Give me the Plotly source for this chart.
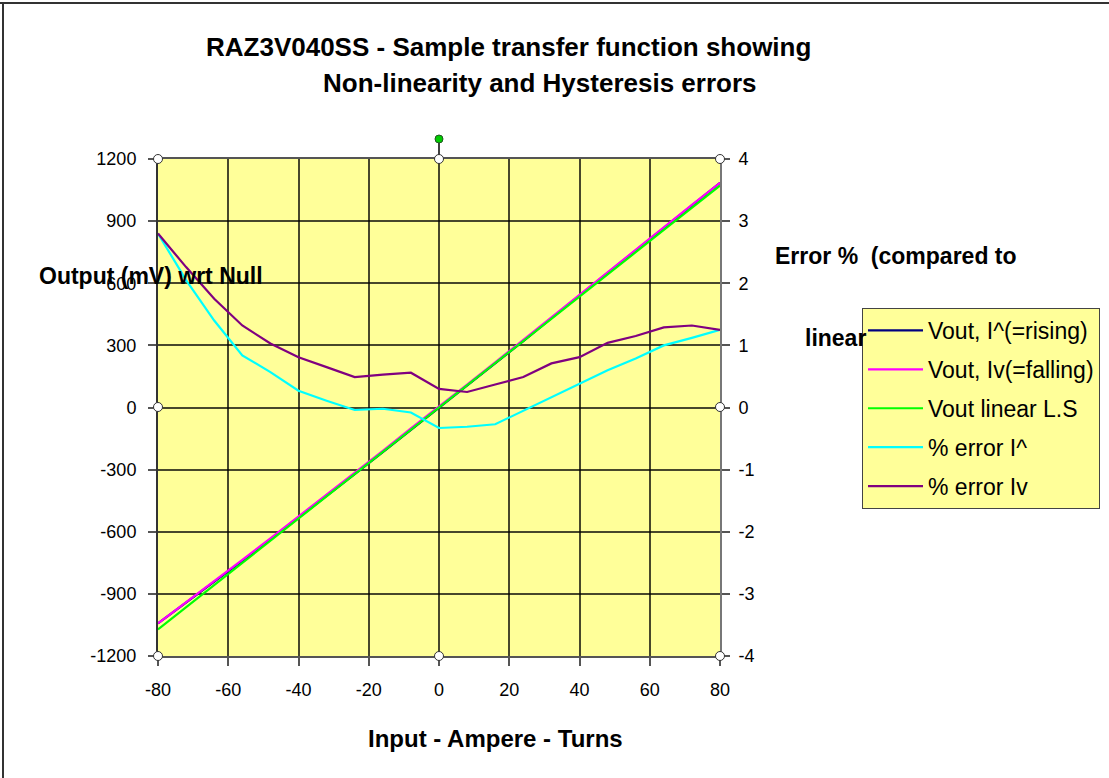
import plotly.graph_objects as go

# ---------------- data ----------------
amp_turns = [-80, -72, -64, -56, -48, -40, -32, -24, -16, -8, 0, 8, 16, 24, 32, 40, 48, 56, 64, 72, 80]

vout_rising = [-1042, -943, -843, -741, -637, -533, -428, -322, -215, -108, -4,
               104, 212, 321, 431, 540, 650, 759, 868, 977, 1085]
vout_falling = [-1042, -941, -839, -736, -632, -527, -422, -316, -209, -101, 3,
                110, 218, 327, 436, 545, 654, 763, 871, 979, 1085]
vout_linear = [-1072, -965, -858, -750, -643, -536, -429, -322, -214, -107, 0,
               107, 214, 322, 429, 536, 643, 750, 858, 965, 1072]
err_rising = [2.80, 2.05, 1.40, 0.84, 0.57, 0.27, 0.11, -0.04, -0.02, -0.08, -0.33,
              -0.31, -0.27, -0.05, 0.17, 0.38, 0.60, 0.79, 1.00, 1.12, 1.25]
err_falling = [2.80, 2.26, 1.75, 1.32, 1.03, 0.81, 0.65, 0.49, 0.53, 0.56, 0.30,
               0.25, 0.37, 0.49, 0.71, 0.81, 1.04, 1.15, 1.29, 1.32, 1.25]

series_names = ["Vout, I^(=rising)", "Vout, Iv(=falling)", "Vout linear L.S", "% error I^", "% error Iv"]

x_tickvals = [-80, -60, -40, -20, 0, 20, 40, 60, 80]
x_ticktext = ["-80", "-60", "-40", "-20", "0", "20", "40", "60", "80"]
y_tickvals = [-1200, -900, -600, -300, 0, 300, 600, 900, 1200]
y_ticktext = ["-1200", "-900", "-600", "-300", "0", "300", "600", "900", "1200"]
y2_tickvals = [-4, -3, -2, -1, 0, 1, 2, 3, 4]
y2_ticktext = ["-4", "-3", "-2", "-1", "0", "1", "2", "3", "4"]

title_line1 = "RAZ3V040SS - Sample transfer function showing"
title_line2 = "Non-linearity and Hysteresis errors"
x_title = "Input - Ampere - Turns"
y_title = "Output (mV) wrt Null"
y2_title_a = "Error %  (compared to"
y2_title_b = "linear"

# ---------------- layout geometry (pixels) ----------------
W, H = 1109, 778
L, R, T, B = 158, 720, 159, 656
FONT = "Liberation Sans, Arial, sans-serif"


def px(xp):
    return (xp - L) / (R - L)


def py(yp):
    return (B - yp) / (B - T)


fig = go.Figure()
colors = ["#000080", "#FF00FF", "#00FF00", "#00FFFF", "#800080"]
ys = [vout_rising, vout_falling, vout_linear, err_rising, err_falling]
for i, (name, yv, c) in enumerate(zip(series_names, ys, colors)):
    fig.add_trace(go.Scatter(
        x=amp_turns, y=yv, name=name, mode="lines",
        line=dict(color=c, width=2.2),
        yaxis="y2" if i >= 3 else "y",
        legendgroup=f"g{i}",
    ))

grid_col = "rgba(0,0,0,0.72)"
fig.update_layout(
    width=W, height=H,
    margin=dict(l=L, r=W - R, t=T, b=H - B, autoexpand=False),
    paper_bgcolor="white",
    plot_bgcolor="#FFFF99",
    font=dict(family=FONT, size=16, color="black"),
    showlegend=True,
    legend=dict(
        x=px(862), y=py(308), xanchor="left", yanchor="top",
        bgcolor="#FFFF99", bordercolor="#444444", borderwidth=1,
        font=dict(size=23, family=FONT),
        itemwidth=55, tracegroupgap=6,
    ),
    xaxis=dict(
        range=[-80, 80], tickvals=x_tickvals, ticktext=x_ticktext,
        showgrid=True, gridcolor=grid_col, gridwidth=2, zeroline=False,
        showline=True, linecolor="#555555", linewidth=2, mirror=True,
        ticks="outside", ticklen=8, tickcolor="#555555", tickwidth=2,
        tickfont=dict(size=18), ticklabelstandoff=8,
    ),
    yaxis=dict(
        range=[-1200, 1200], tickvals=y_tickvals, ticktext=y_ticktext,
        showgrid=True, gridcolor=grid_col, gridwidth=2, zeroline=False,
        showline=True, linecolor="#333333", linewidth=2,
        ticks="outside", ticklen=8, tickcolor="#555555", tickwidth=2,
        tickfont=dict(size=18), ticklabelstandoff=8,
    ),
    yaxis2=dict(
        range=[-4, 4], tickvals=y2_tickvals, ticktext=y2_ticktext,
        overlaying="y", side="right", showgrid=False, zeroline=False,
        showline=True, linecolor="#777777", linewidth=2,
        ticks="outside", ticklen=8, tickcolor="#555555", tickwidth=2,
        tickfont=dict(size=18), ticklabelstandoff=5,
    ),
)

ann = [
    dict(text=f"<b>{title_line1}</b>", x=px(508), y=py(47), size=26),
    dict(text=f"<b>{title_line2}</b>", x=px(540), y=py(83), size=26),
    dict(text=f"<b>{x_title}</b>", x=px(495), y=py(738), size=24),
]
for a in ann:
    fig.add_annotation(text=a["text"], xref="paper", yref="paper", x=a["x"], y=a["y"],
                       xanchor="center", yanchor="middle", showarrow=False,
                       font=dict(size=a["size"], family=FONT, color="black"))
for text, xl, yc in [(y_title, 37, 276), (y2_title_a, 773, 256), (y2_title_b, 803, 338)]:
    fig.add_annotation(text=f"<b>{text}</b>", xref="paper", yref="paper", x=px(xl), y=py(yc),
                       xanchor="left", yanchor="middle", showarrow=False,
                       font=dict(size=23, family=FONT, color="black"))

# chart-area border (top and left)
fig.add_shape(type="line", xref="paper", yref="paper", x0=px(0), x1=px(W), y0=py(3), y1=py(3),
              line=dict(color="#333333", width=2), layer="above")
fig.add_shape(type="line", xref="paper", yref="paper", x0=px(3), x1=px(3), y0=py(3), y1=py(H),
              line=dict(color="#333333", width=2), layer="above")

# selection handles on the plot area
fig.add_shape(type="line", xref="paper", yref="paper", x0=px(439), x1=px(439), y0=py(139), y1=py(159),
              line=dict(color="black", width=1.5), layer="above")
handles = [(158, 159), (439, 159), (720, 159), (158, 407), (720, 407), (158, 656), (439, 656), (720, 656)]
for hx, hy in handles:
    fig.add_shape(type="circle", xref="paper", yref="paper", xsizemode="pixel", ysizemode="pixel",
                  xanchor=px(hx), yanchor=py(hy), x0=-4.5, x1=4.5, y0=-4.5, y1=4.5,
                  fillcolor="white", line=dict(color="#333333", width=1), layer="above")
fig.add_shape(type="circle", xref="paper", yref="paper", xsizemode="pixel", ysizemode="pixel",
              xanchor=px(439), yanchor=py(139), x0=-4, x1=4, y0=-4, y1=4,
              fillcolor="#00CC00", line=dict(color="#225522", width=1), layer="above")

fig.write_html("out.html", config={"displayModeBar": False},
               post_script="document.body.style.margin='0';document.body.style.overflow='hidden';")
